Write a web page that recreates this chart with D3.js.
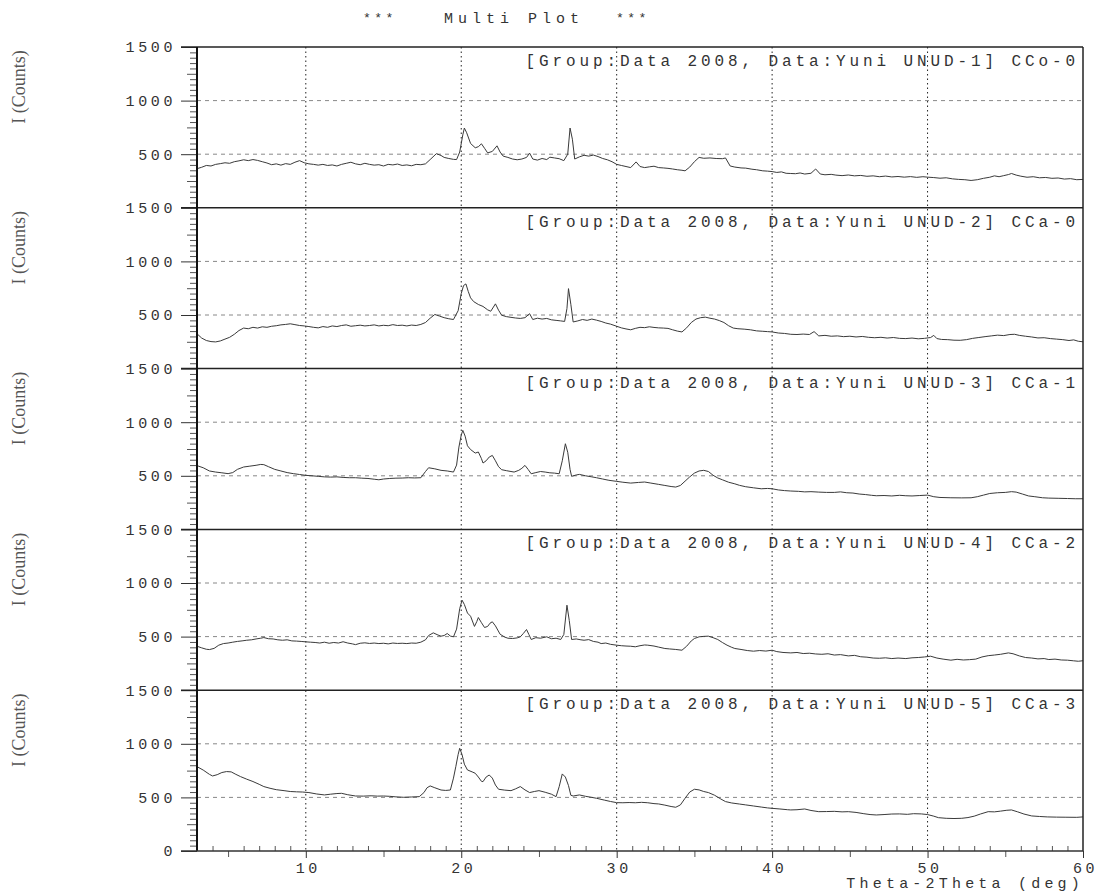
<!DOCTYPE html>
<meta charset='utf-8'>
<style>
  body { margin: 0; background: #fff; }
  svg { display: block; }
  .mono { font-family: "Liberation Mono", "DejaVu Sans Mono", monospace; fill: #333; }
  .tick text { font-family: "Liberation Mono", monospace; fill: #333; }
  .trace { fill: none; stroke: #3a3a3a; stroke-width: 1; }
</style>

<svg width="1097" height="892"></svg>

<script src="https://d3js.org/d3.v7.min.js"></script>

<script>

// tick labels / texts
var xTicks = [10, 20, 30, 40, 50, 60];
var yTicks = [500, 1000, 1500];
var labels = [
  "[Group:Data 2008, Data:Yuni UNUD-1] CCo-0",
  "[Group:Data 2008, Data:Yuni UNUD-2] CCa-0",
  "[Group:Data 2008, Data:Yuni UNUD-3] CCa-1",
  "[Group:Data 2008, Data:Yuni UNUD-4] CCa-2",
  "[Group:Data 2008, Data:Yuni UNUD-5] CCa-3"
];

// patterns, [2theta, counts]
var unud1 = [[3.0,365],[3.3,378],[3.6,395],[3.9,390],[4.2,405],[4.5,412],[4.8,420],[5.1,415],[5.4,430],[5.7,438],[6.0,448],[6.3,440],[6.6,450],[6.9,442],[7.2,430],[7.5,418],[7.8,402],[8.1,410],[8.4,398],[8.7,412],[9.0,405],[9.3,425],[9.6,440],[9.9,420],[10.2,410],[10.5,405],[10.8,398],[11.1,405],[11.4,395],[11.7,400],[12.0,390],[12.3,405],[12.6,415],[12.9,425],[13.2,410],[13.5,402],[13.8,415],[14.1,405],[14.4,398],[14.7,402],[15.0,390],[15.3,405],[15.6,400],[15.9,408],[16.2,395],[16.5,400],[16.8,392],[17.1,405],[17.4,402],[17.7,410],[18.0,450],[18.4,505],[18.7,488],[18.9,470],[19.2,460],[19.5,452],[19.7,450],[19.9,520],[20.1,680],[20.2,744],[20.35,700],[20.6,600],[20.9,560],[21.1,570],[21.3,597],[21.5,555],[21.7,512],[22.0,526],[22.3,578],[22.5,520],[22.7,482],[23.0,470],[23.3,455],[23.6,448],[23.9,455],[24.2,470],[24.4,510],[24.6,455],[24.9,445],[25.2,460],[25.5,450],[25.7,472],[26.0,465],[26.3,458],[26.6,440],[26.85,500],[27.0,744],[27.15,640],[27.3,455],[27.6,475],[27.9,490],[28.2,482],[28.5,492],[28.8,478],[29.1,460],[29.4,448],[29.7,430],[30.0,405],[30.3,395],[30.6,385],[30.9,375],[31.25,428],[31.5,385],[31.8,375],[32.1,382],[32.4,388],[32.7,375],[33.0,372],[33.3,368],[33.6,362],[33.9,355],[34.2,350],[34.4,345],[34.7,380],[35.0,430],[35.3,470],[35.6,462],[36.0,465],[36.4,460],[36.8,458],[37.0,465],[37.3,390],[37.6,380],[38.0,372],[38.3,370],[38.7,360],[39.0,355],[39.4,345],[39.7,342],[40.0,338],[40.3,330],[40.6,335],[40.9,322],[41.2,320],[41.5,318],[41.8,325],[42.1,315],[42.5,322],[42.8,362],[43.1,315],[43.4,308],[43.8,312],[44.1,305],[44.5,300],[44.9,306],[45.3,298],[45.7,302],[46.1,294],[46.5,298],[46.9,290],[47.3,296],[47.7,288],[48.1,292],[48.5,286],[48.9,291],[49.3,284],[49.7,290],[50.0,286],[50.4,282],[50.8,276],[51.2,280],[51.6,270],[52.0,265],[52.4,262],[52.8,255],[53.2,262],[53.6,275],[54.0,285],[54.3,298],[54.6,290],[54.9,300],[55.2,310],[55.4,320],[55.7,305],[56.0,295],[56.4,285],[56.8,290],[57.2,280],[57.6,283],[58.0,275],[58.4,278],[58.8,268],[59.2,272],[59.6,262],[60.0,265]];

var unud2 = [[3.0,325],[3.3,285],[3.6,262],[3.9,252],[4.2,249],[4.5,258],[4.8,275],[5.1,292],[5.4,320],[5.7,355],[6.0,378],[6.3,372],[6.6,385],[6.9,378],[7.2,390],[7.5,385],[7.8,395],[8.1,400],[8.4,408],[8.7,412],[9.0,418],[9.3,410],[9.6,402],[9.9,398],[10.2,392],[10.5,385],[10.8,380],[11.1,392],[11.4,385],[11.7,398],[12.0,392],[12.3,402],[12.6,408],[12.9,395],[13.2,400],[13.5,405],[13.8,398],[14.1,402],[14.4,408],[14.7,398],[15.0,404],[15.3,400],[15.6,410],[15.9,402],[16.2,405],[16.5,398],[16.8,406],[17.1,402],[17.4,412],[17.7,430],[18.0,470],[18.3,505],[18.6,490],[18.9,475],[19.2,465],[19.5,458],[19.8,540],[20.0,700],[20.15,775],[20.3,790],[20.45,720],[20.6,660],[20.8,625],[21.1,598],[21.4,580],[21.7,548],[21.9,535],[22.2,604],[22.4,545],[22.6,498],[22.9,485],[23.2,478],[23.5,472],[23.8,468],[24.1,475],[24.4,512],[24.6,458],[24.9,470],[25.2,462],[25.5,468],[25.8,455],[26.1,450],[26.4,445],[26.65,440],[26.8,560],[26.9,746],[27.05,600],[27.2,435],[27.5,445],[27.8,458],[28.1,450],[28.4,462],[28.7,452],[29.0,440],[29.3,425],[29.6,415],[30.0,395],[30.3,380],[30.6,370],[30.9,362],[31.2,375],[31.5,385],[31.8,382],[32.1,390],[32.4,384],[32.7,380],[33.0,378],[33.3,375],[33.6,362],[33.9,350],[34.2,342],[34.5,380],[34.8,430],[35.1,462],[35.4,475],[35.7,480],[36.0,470],[36.3,462],[36.6,448],[36.9,430],[37.2,400],[37.5,378],[37.8,372],[38.2,368],[38.6,362],[39.0,352],[39.4,348],[39.7,345],[40.0,342],[40.4,332],[40.8,328],[41.2,320],[41.6,318],[42.0,322],[42.4,318],[42.7,345],[43.0,305],[43.4,310],[43.8,302],[44.2,305],[44.6,298],[45.0,302],[45.4,295],[45.8,300],[46.2,292],[46.6,288],[47.0,292],[47.4,285],[47.8,290],[48.2,282],[48.6,280],[49.0,285],[49.4,278],[49.8,282],[50.2,290],[50.4,310],[50.6,280],[50.9,272],[51.3,270],[51.7,265],[52.1,264],[52.5,270],[52.9,282],[53.3,290],[53.7,298],[54.1,305],[54.5,312],[54.9,308],[55.3,318],[55.6,320],[55.9,310],[56.3,302],[56.7,295],[57.1,286],[57.5,288],[57.9,280],[58.3,275],[58.7,270],[59.1,262],[59.4,268],[59.7,255],[60.0,250]];

var unud3 = [[3.0,595],[3.4,575],[3.8,545],[4.2,535],[4.6,528],[5.0,520],[5.3,530],[5.6,560],[6.0,582],[6.4,590],[6.8,598],[7.1,606],[7.3,604],[7.6,585],[8.0,560],[8.4,545],[8.8,530],[9.2,520],[9.6,512],[10.0,504],[10.4,500],[10.8,495],[11.2,490],[11.6,488],[12.0,490],[12.4,485],[12.8,482],[13.2,482],[13.6,478],[14.0,475],[14.4,468],[14.7,463],[15.0,470],[15.4,475],[15.8,478],[16.2,479],[16.6,482],[17.0,480],[17.4,482],[17.7,540],[17.9,575],[18.3,565],[18.7,551],[19.1,545],[19.5,535],[19.7,600],[19.85,768],[20.0,880],[20.1,924],[20.25,870],[20.4,780],[20.6,745],[20.9,712],[21.1,722],[21.3,660],[21.4,619],[21.6,640],[21.8,675],[22.0,690],[22.2,640],[22.4,585],[22.6,557],[22.9,548],[23.2,540],[23.4,535],[23.7,551],[23.9,570],[24.1,597],[24.3,560],[24.5,519],[24.8,530],[25.1,540],[25.4,535],[25.7,528],[26.0,525],[26.3,519],[26.5,640],[26.7,799],[26.85,720],[27.0,560],[27.1,495],[27.4,508],[27.6,513],[28.0,500],[28.4,490],[28.7,482],[29.1,470],[29.5,458],[30.0,448],[30.4,440],[30.9,432],[31.4,438],[31.8,442],[32.2,432],[32.7,420],[33.1,410],[33.5,400],[33.8,395],[34.1,410],[34.4,450],[34.7,490],[35.0,525],[35.3,545],[35.6,551],[35.9,540],[36.2,505],[36.5,480],[36.8,463],[37.2,440],[37.6,425],[37.9,411],[38.3,398],[38.8,388],[39.3,379],[39.7,382],[40.0,379],[40.4,368],[40.8,362],[41.2,358],[41.7,355],[42.1,350],[42.5,352],[43.0,348],[43.5,345],[44.0,345],[44.4,350],[44.8,342],[45.2,339],[45.6,330],[46.0,325],[46.4,318],[46.7,314],[47.2,316],[47.7,312],[48.2,318],[48.6,314],[49.0,312],[49.5,316],[50.0,320],[50.4,305],[50.8,298],[51.5,295],[52.2,294],[52.8,295],[53.2,305],[53.6,320],[54.0,335],[54.5,342],[55.0,345],[55.4,352],[55.7,348],[56.1,330],[56.5,312],[56.9,305],[57.4,295],[57.8,292],[58.4,290],[59.0,288],[59.5,286],[60.0,286]];

var unud4 = [[3.0,410],[3.3,395],[3.6,382],[3.8,379],[4.1,390],[4.4,420],[4.7,435],[5.0,440],[5.3,448],[5.6,455],[5.9,460],[6.2,466],[6.5,470],[6.8,478],[7.1,485],[7.3,491],[7.6,480],[7.9,478],[8.2,470],[8.5,466],[8.8,470],[9.1,460],[9.4,458],[9.7,455],[10.0,451],[10.3,448],[10.6,445],[10.9,440],[11.2,448],[11.5,438],[11.8,445],[12.1,440],[12.4,452],[12.7,440],[13.0,432],[13.2,425],[13.5,438],[13.8,442],[14.1,436],[14.4,440],[14.7,435],[15.0,438],[15.3,432],[15.6,440],[15.9,436],[16.2,438],[16.5,435],[16.8,440],[17.1,438],[17.4,448],[17.7,470],[17.9,510],[18.2,535],[18.5,515],[18.7,504],[18.9,510],[19.1,529],[19.3,505],[19.5,498],[19.7,570],[19.9,760],[20.05,840],[20.2,800],[20.4,720],[20.6,690],[20.85,595],[21.0,640],[21.1,678],[21.3,630],[21.5,585],[21.7,595],[21.85,625],[22.0,638],[22.2,600],[22.5,522],[22.8,495],[23.0,485],[23.3,482],[23.6,488],[23.8,498],[24.0,530],[24.2,566],[24.35,520],[24.5,473],[24.8,490],[25.1,485],[25.5,498],[25.8,480],[26.1,485],[26.4,473],[26.6,520],[26.8,793],[26.95,650],[27.1,473],[27.4,478],[27.7,470],[27.9,466],[28.2,472],[28.5,455],[28.8,448],[29.0,435],[29.3,440],[29.6,428],[30.0,420],[30.3,415],[30.6,412],[30.9,410],[31.2,405],[31.5,415],[31.8,422],[32.0,420],[32.4,412],[32.7,402],[33.1,389],[33.4,385],[33.8,380],[34.2,373],[34.5,410],[34.8,460],[35.0,482],[35.3,498],[35.6,502],[35.9,504],[36.2,490],[36.5,473],[36.8,445],[37.1,420],[37.4,400],[37.6,389],[38.0,380],[38.4,370],[38.8,364],[39.2,370],[39.6,365],[40.0,373],[40.3,360],[40.7,352],[41.2,348],[41.6,352],[42.0,342],[42.4,345],[42.8,338],[43.2,335],[43.6,340],[44.0,328],[44.4,332],[44.9,320],[45.3,325],[45.7,312],[46.1,308],[46.5,300],[46.9,298],[47.3,302],[47.7,295],[48.1,300],[48.6,295],[49.0,302],[49.4,305],[49.8,310],[50.2,317],[50.6,300],[51.0,290],[51.5,280],[51.9,288],[52.3,282],[52.7,285],[53.1,290],[53.5,310],[53.9,322],[54.3,328],[54.7,335],[55.2,348],[55.5,340],[55.9,320],[56.3,305],[56.7,300],[57.1,292],[57.5,295],[57.8,286],[58.2,290],[58.6,282],[59.0,280],[59.4,274],[59.7,270],[60.0,275]];

var unud5 = [[3.0,787],[3.4,755],[3.8,715],[4.0,700],[4.3,712],[4.6,732],[4.9,741],[5.2,738],[5.5,715],[5.8,694],[6.2,670],[6.6,648],[7.0,622],[7.3,601],[7.7,585],[8.1,572],[8.6,563],[9.0,555],[9.4,552],[9.8,550],[10.2,545],[10.7,532],[11.2,523],[11.6,530],[12.0,536],[12.3,538],[12.7,525],[13.2,513],[13.7,512],[14.2,515],[14.6,512],[15.0,513],[15.4,510],[15.8,505],[16.3,501],[16.8,504],[17.3,507],[17.6,545],[17.8,590],[18.0,607],[18.3,590],[18.7,569],[19.0,565],[19.3,569],[19.5,680],[19.65,787],[19.8,900],[19.9,958],[20.05,900],[20.2,810],[20.4,756],[20.7,738],[20.9,725],[21.1,690],[21.3,650],[21.4,647],[21.6,690],[21.8,709],[22.0,680],[22.2,615],[22.4,576],[22.8,568],[23.2,563],[23.5,580],[23.8,601],[24.1,570],[24.4,545],[24.7,555],[25.0,563],[25.4,548],[25.8,530],[26.1,507],[26.3,600],[26.5,719],[26.7,690],[26.9,610],[27.05,520],[27.2,513],[27.6,523],[28.0,510],[28.4,500],[28.7,492],[29.2,475],[29.6,462],[30.0,451],[30.4,450],[30.8,452],[31.2,450],[31.6,454],[32.0,450],[32.4,442],[32.7,439],[33.1,428],[33.5,415],[33.8,408],[34.1,430],[34.4,492],[34.7,550],[35.0,576],[35.3,570],[35.6,555],[35.9,545],[36.3,520],[36.7,485],[37.0,461],[37.4,448],[37.9,438],[38.3,430],[38.8,420],[39.3,410],[39.7,402],[40.0,398],[40.5,392],[41.0,385],[41.2,383],[41.6,385],[42.1,392],[42.5,378],[43.0,367],[43.5,368],[44.0,370],[44.5,365],[44.9,367],[45.4,360],[45.9,348],[46.3,340],[46.7,336],[47.2,340],[47.7,345],[48.2,346],[48.7,342],[49.1,348],[49.6,346],[50.0,340],[50.4,325],[50.7,311],[51.2,305],[51.7,303],[52.2,305],[52.6,312],[53.0,325],[53.4,345],[53.9,367],[54.3,365],[54.7,372],[55.1,380],[55.4,383],[55.8,365],[56.2,345],[56.7,327],[57.2,322],[57.7,318],[58.3,316],[58.9,315],[59.6,314],[60.0,318]];

var series = [unud1, unud2, unud3, unud4, unud5];

var svg = d3.select("svg");

var left = 197, right = 1083, top0 = 47, bottom = 851;
var ph = (bottom - top0) / series.length;

var x = d3.scaleLinear().domain([3, 60]).range([left, right]);

// title
svg.append("text").attr("class", "mono").attr("x", 363).attr("y", 22)
  .style("font-size", "13px").style("letter-spacing", "3.5px").text("***");
svg.append("text").attr("class", "mono").attr("x", 444).attr("y", 23)
  .style("font-size", "15px").style("letter-spacing", "5px").text("Multi Plot");
svg.append("text").attr("class", "mono").attr("x", 616).attr("y", 22)
  .style("font-size", "13px").style("letter-spacing", "3.5px").text("***");

// vertical dotted grid
svg.append("g").selectAll("line")
  .data(xTicks.slice(0, -1))
  .enter().append("line")
  .attr("x1", function(d) { return x(d); })
  .attr("x2", function(d) { return x(d); })
  .attr("y1", top0).attr("y2", bottom)
  .style("stroke", "#222")
  .style("stroke-width", 1)
  .style("stroke-dasharray", "1.5,3");

series.forEach(function(data, i) {
  var top = top0 + i * ph;
  var y = d3.scaleLinear().domain([0, 1500]).range([top + ph, top]);
  var g = svg.append("g");

  // dashed horizontal grid
  g.selectAll(".hgrid")
    .data([500, 1000])
    .enter().append("line")
    .attr("x1", left).attr("x2", right)
    .attr("y1", function(d) { return y(d); })
    .attr("y2", function(d) { return y(d); })
    .style("stroke", "#888")
    .style("stroke-dasharray", "4,4");

  // minor y ticks
  g.append("g")
    .attr("transform", "translate(" + left + ",0)")
    .call(d3.axisLeft(y).tickValues(d3.range(50, 1500, 50).filter(function(v) { return v % 250; }))
      .tickSize(7).tickFormat("").tickSizeOuter(0))
    .call(function(a) { a.select(".domain").remove(); a.selectAll("line").style("stroke", "#555"); });
  g.append("g")
    .attr("transform", "translate(" + left + ",0)")
    .call(d3.axisLeft(y).tickValues([250, 750, 1250]).tickSize(10).tickFormat("").tickSizeOuter(0))
    .call(function(a) { a.select(".domain").remove(); a.selectAll("line").style("stroke", "#555"); });

  // major y ticks + labels
  var yt = i === series.length - 1 ? [0].concat(yTicks) : yTicks;
  g.append("g")
    .attr("transform", "translate(" + left + ",0)")
    .call(d3.axisLeft(y).tickValues(yt).tickSize(16).tickPadding(5).tickSizeOuter(0)
      .tickFormat(d3.format("d")))
    .call(function(a) {
      a.select(".domain").remove();
      a.selectAll("line").style("stroke", "#333");
      a.selectAll("text").style("font-size", "15px").style("letter-spacing", "3.6px");
    });

  // panel top line
  g.append("line")
    .attr("x1", left - 16).attr("x2", right)
    .attr("y1", top).attr("y2", top)
    .style("stroke", "#222").style("stroke-width", 1.5);

  // trace
  g.append("path")
    .datum(data)
    .attr("class", "trace")
    .attr("d", d3.line()
      .x(function(d) { return x(d[0]); })
      .y(function(d) { return y(d[1]); }));

  // sample label
  g.append("text")
    .attr("class", "mono")
    .attr("x", right - 8 + 4)
    .attr("y", top + 19)
    .attr("text-anchor", "end")
    .style("font-size", "16px")
    .style("letter-spacing", "3.9px")
    .text(labels[i]);

  // y title
  svg.append("text")
    .attr("transform", "translate(19," + (top + 40) + ") rotate(-90)")
    .attr("text-anchor", "middle")
    .attr("dominant-baseline", "central")
    .style("font-family", "Liberation Serif, serif")
    .style("font-size", "18px")
    .style("fill", "#555")
    .text("I (Counts)");
});

// frame lines
svg.append("line").attr("x1", left).attr("x2", left).attr("y1", top0).attr("y2", bottom)
  .style("stroke", "#111").style("stroke-width", 2);
svg.append("line").attr("x1", right).attr("x2", right).attr("y1", top0).attr("y2", bottom)
  .style("stroke", "#222").style("stroke-width", 1.5);

// x axis
var xg = svg.append("g").attr("transform", "translate(0," + bottom + ")");
xg.append("g")
  .call(d3.axisBottom(x).tickValues(d3.range(4, 60, 1).filter(function(v) { return v % 5; }))
    .tickSize(-5).tickFormat("").tickSizeOuter(0))
  .call(function(a) { a.select(".domain").remove(); a.selectAll("line").style("stroke", "#555"); });
xg.append("g")
  .call(d3.axisBottom(x).tickValues([5, 15, 25, 35, 45, 55]).tickSize(6).tickFormat("").tickSizeOuter(0))
  .call(function(a) { a.select(".domain").remove(); a.selectAll("line").style("stroke", "#555"); });
xg.append("g")
  .call(d3.axisBottom(x).tickValues(xTicks).tickSize(7).tickPadding(4).tickSizeOuter(0))
  .call(function(a) {
    a.select(".domain").remove();
    a.selectAll("line").style("stroke", "#333");
    a.selectAll("text").style("font-size", "15px").style("letter-spacing", "3.6px").attr("dx", 2);
  });
xg.append("line").attr("x1", left - 16).attr("x2", right).attr("y1", 0).attr("y2", 0)
  .style("stroke", "#333").style("stroke-width", 1.5);

svg.append("text")
  .attr("class", "mono")
  .attr("x", 1084)
  .attr("y", 888)
  .attr("text-anchor", "end")
  .style("font-size", "15px")
  .style("letter-spacing", "4.2px")
  .text("Theta-2Theta (deg)");

</script>
